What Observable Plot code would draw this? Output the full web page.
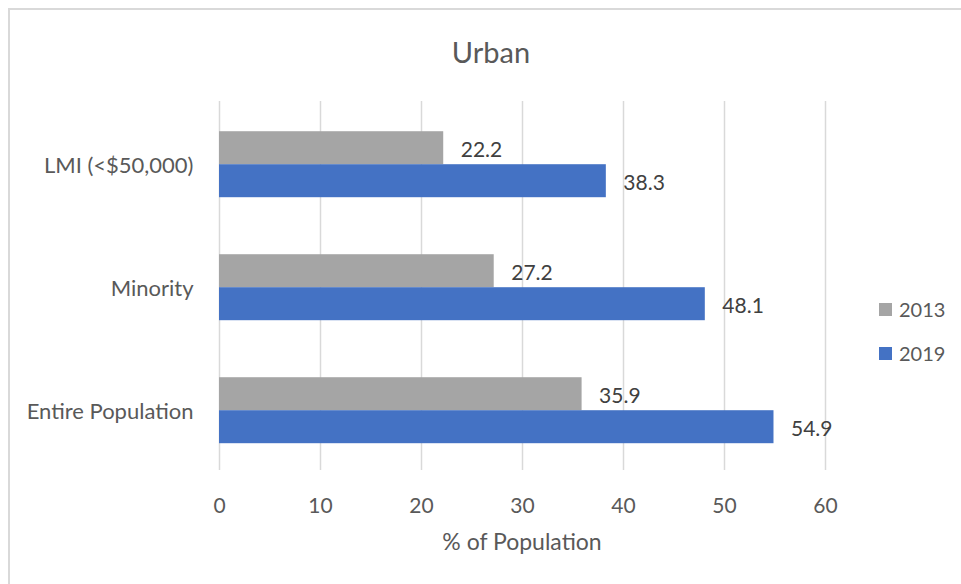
<!DOCTYPE html>
<html>
<head>
<meta charset="utf-8">
<script src="https://cdn.jsdelivr.net/npm/d3@7"></script>
<script src="https://cdn.jsdelivr.net/npm/@observablehq/plot@0.6"></script>
<style>
  html, body { margin: 0; padding: 0; background: #fff; }
  #chart { position: relative; width: 961px; height: 584px; overflow: hidden; font-family: Lato, "Open Sans", sans-serif; color: #595959; }
  #frame { position: absolute; left: 8px; top: 8px; width: 1000px; height: 700px; border-left: 2px solid #d9d9d9; border-top: 2px solid #d9d9d9; }
  #title { position: absolute; top: 37px; left: 491px; transform: translateX(-50%); font-size: 29px; line-height: 29px; white-space: nowrap; }
  #xlabel { position: absolute; top: 530px; left: 522px; transform: translateX(-50%); font-size: 23px; line-height: 23px; white-space: nowrap; }
  .legend-row { position: absolute; left: 879px; height: 13px; display: flex; align-items: center; font-size: 20px; line-height: 13px; }
  .legend-row .swatch { width: 13px; height: 13px; margin-right: 7px; }
  #plot { position: absolute; left: 0; top: 0; }
</style>
</head>
<body>
<div id="chart">
  <div id="frame"></div>
  <div id="plot"></div>
  <div id="title"></div>
  <div id="xlabel"></div>
  <div id="legend"></div>
</div>
<script>
// Share of the urban population, by group and survey year
const title = "Urban";
const categories = ["LMI (<$50,000)", "Minority", "Entire Population"];
const years = ["2013", "2019"];
const values2013 = [22.2, 27.2, 35.9];
const values2019 = [38.3, 48.1, 54.9];
const xTicks = [0, 10, 20, 30, 40, 50, 60];
const xLabel = "% of Population";
const yearColors = ["#A5A5A5", "#4472C4"];

const rows = categories.flatMap((category, i) => [
  {category, year: years[0], value: values2013[i]},
  {category, year: years[1], value: values2019[i]}
]);

const chart = Plot.plot({
  width: 961,
  height: 584,
  marginTop: 101,
  marginBottom: 114,
  marginLeft: 219,
  marginRight: 136,
  style: {fontFamily: "Lato, 'Open Sans', sans-serif", fontSize: "21px", color: "#595959", background: "transparent"},
  x: {domain: [0, 60]},
  fy: {domain: categories, padding: 0, round: false},
  y: {domain: years, paddingInner: 0, paddingOuter: 0.864, align: 0.53, round: false, axis: null},
  color: {domain: years, range: yearColors},
  marks: [
    Plot.gridX(xTicks, {stroke: "#d9d9d9", strokeOpacity: 1, strokeWidth: 1.5}),
    Plot.axisX(xTicks, {tickSize: 0, tickPadding: 28, tickFormat: d => String(d), label: null, fontSize: 21}),
    Plot.axisFy({anchor: "left", tickSize: 0, tickPadding: 26, dy: 3, label: null, fontSize: 22}),
    Plot.barX(rows, {fy: "category", y: "year", x: "value", fill: "year"}),
    Plot.text(rows, {
      fy: "category", y: "year", x: "value",
      text: d => d.value.toFixed(1),
      textAnchor: "start", dx: 17, dy: 2, fill: "#404040", fontSize: 21
    })
  ]
});
document.getElementById("plot").appendChild(chart);

document.getElementById("title").textContent = title;
document.getElementById("xlabel").textContent = xLabel;

// Legend rows: one swatch and label per year
const legendTops = [303, 347];
const legend = document.getElementById("legend");
years.forEach((year, i) => {
  const row = document.createElement("div");
  row.className = "legend-row";
  row.style.top = legendTops[i] + "px";
  const sw = document.createElement("div");
  sw.className = "swatch";
  sw.style.background = yearColors[i];
  const label = document.createElement("span");
  label.textContent = year;
  row.appendChild(sw);
  row.appendChild(label);
  legend.appendChild(row);
});
</script>
</body>
</html>
